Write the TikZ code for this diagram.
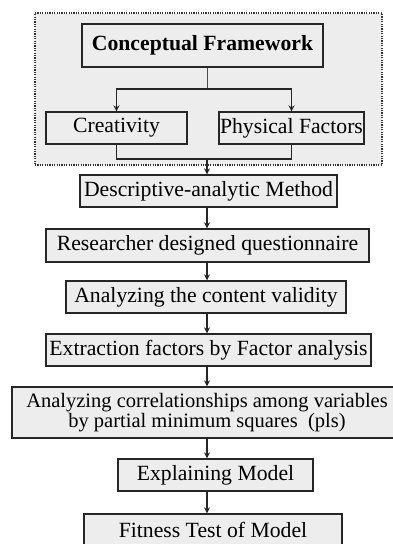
\documentclass[tikz,border=0pt]{standalone}
\usepackage{fontspec}
\setmainfont{Liberation Serif}
\usetikzlibrary{arrows.meta}
\begin{document}
\begin{tikzpicture}[x=1pt,y=-1pt,
  box/.style={draw=black!85, line width=1.4pt, fill=black!7, inner sep=0pt, font=\fontsize{21.7}{21.7}\selectfont, anchor=center},
  arr/.style={-{Stealth[length=6pt,width=6pt]}, line width=1.2pt, black!85},
  link/.style={line width=1.2pt, black!85}]
\useasboundingbox (0,0) rectangle (393,544);
\clip (0,0) rectangle (393,544);
\fill[white] (0,0) rectangle (393,544);
\node[draw=black!80, fill=black!7, line width=1.2pt, dash pattern=on 1.2pt off 1.2pt, minimum width=347pt, minimum height=152pt, inner sep=0pt] (frame) at (208.5,89) {};
\node[box, minimum width=241pt, minimum height=43pt, font=\fontsize{21.7}{21.7}\selectfont\bfseries] (cf) at (202.5,45.5) {Conceptual Framework};
\node[box, minimum width=141pt, minimum height=32pt] (cr) at (116.5,128) {Creativity};
\node[box, minimum width=145pt, minimum height=32pt] (pf) at (291.5,128) {Physical Factors};
\node[box, minimum width=257pt, minimum height=32pt] (de) at (208.5,191) {Descriptive-analytic Method};
\node[box, minimum width=323pt, minimum height=33pt] (rq) at (207.5,245.5) {Researcher designed questionnaire};
\node[box, minimum width=280pt, minimum height=32pt] (cv) at (206,297) {Analyzing the content validity};
\node[box, minimum width=325pt, minimum height=32pt] (ef) at (208.5,350) {Extraction factors by Factor analysis};
\node[box, minimum width=390pt, minimum height=51pt, align=center, font=\fontsize{20.5}{17}\selectfont] (ac) at (207,412.5) {Analyzing correlationships among variables\\by partial minimum squares\ \ (pls)};
\node[box, minimum width=195pt, minimum height=32pt] (em) at (215.5,475) {Explaining Model};
\node[box, minimum width=258pt, minimum height=32pt] (ft) at (213,530) {Fitness Test of Model};
\coordinate (ax) at (207,0);
\coordinate (split) at (207,89);
\coordinate (join) at (207,159);
\draw[line width=0.8pt, black!70] (cf.south -| ax) -- (split);
\draw[arr] (split) -| (cr.north);
\draw[arr] (split) -| (pf.north);
\draw[link] (cr.south) |- (join) -| (pf.south);
\draw[arr] (join) -- (de.north -| ax);
\draw[arr] (de.south -| ax) -- (rq.north -| ax);
\draw[arr] (rq.south -| ax) -- (cv.north -| ax);
\draw[arr] (cv.south -| ax) -- (ef.north -| ax);
\draw[arr] (ef.south -| ax) -- (ac.north -| ax);
\draw[arr] (ac.south -| ax) -- (em.north -| ax);
\draw[arr] (em.south -| ax) -- (ft.north -| ax);
\end{tikzpicture}
\end{document}
